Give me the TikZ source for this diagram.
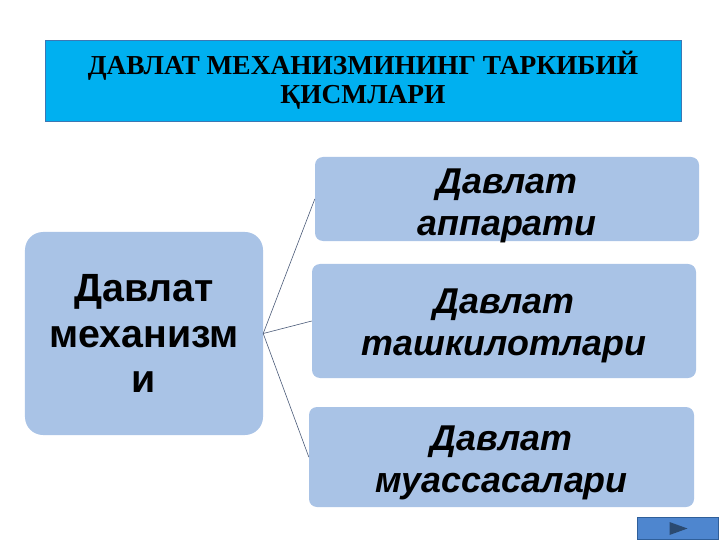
\documentclass[tikz,border=0pt]{standalone}
\usepackage{fontspec}
\setmainfont{Liberation Serif}
\newfontfamily\boxfont{Liberation Sans}
\usetikzlibrary{calc}
\usepackage{xcolor}
\definecolor{titlecyan}{HTML}{00B0F0}
\definecolor{titleedge}{HTML}{3C78B4}
\definecolor{boxblue}{HTML}{A9C3E6}
\definecolor{linkgrey}{HTML}{4A5A78}
\definecolor{btnblue}{HTML}{4E86CF}
\definecolor{btnedge}{HTML}{2F5F9A}
\definecolor{btnarrow}{HTML}{2B4A70}

\begin{document}
\begin{tikzpicture}[x=1bp,y=-1bp,
    titlebox/.style={draw=titleedge, fill=titlecyan, line width=0.6bp, align=center, inner sep=0pt,
      font=\fontsize{27.5}{29}\selectfont\bfseries},
    mainbox/.style={fill=boxblue, rounded corners=18bp, align=center, inner sep=0pt,
      font=\boxfont\fontsize{39.5}{46}\selectfont\bfseries},
    partbox/.style={fill=boxblue, rounded corners=8bp, inner sep=0pt},
    parttext/.style={align=center, inner sep=0pt,
      font=\boxfont\fontsize{36}{42}\selectfont\bfseries\itshape},
    link/.style={draw=linkgrey, line width=0.6bp}]

      \useasboundingbox (0,0) rectangle (720,540);

      % Title
      \node[titlebox, minimum width=636bp, minimum height=81bp] (title) at (363,80.5)
        {ДАВЛАТ МЕХАНИЗМИНИНГ ТАРКИБИЙ\\ҚИСМЛАРИ};

      % Main box
      \node[mainbox, minimum width=238bp, minimum height=203bp] (mech) at (144,333.5)
        {Давлат\\механизм\\и};

      % Parts
      \node[partbox, minimum width=384bp, minimum height=84bp] (appar) at (507,199) {};
      \node[partbox, minimum width=384bp, minimum height=114bp] (tashk) at (504,321) {};
      \node[partbox, minimum width=385bp, minimum height=100bp] (muass) at (501.5,457) {};

      \node[parttext] (appar-t) at ($(appar.center)+(0,7)$) {Давлат\\аппарати};
      \node[parttext] (tashk-t) at ($(tashk.center)+(0,5)$) {Давлат\\ташкилотлари};
      \node[parttext] (muass-t) at ($(muass.center)+(0,6)$) {Давлат\\муассасалари};

      % Links
      \foreach \p in {appar,tashk,muass}
      {
        \draw[link] (mech.east) -- (\p.west);
      }

      % Next button
      \node[draw=btnedge, fill=btnblue, line width=0.8bp, minimum width=81bp, minimum height=22bp,
        inner sep=0pt] (next) at (677.5,528.5) {};
      \fill[btnarrow] ($(next.center)+(-8,-6.5)$) -- ($(next.center)+(10,0)$)
        -- ($(next.center)+(-8,6.5)$) -- cycle;

\end{tikzpicture}
\end{document}
